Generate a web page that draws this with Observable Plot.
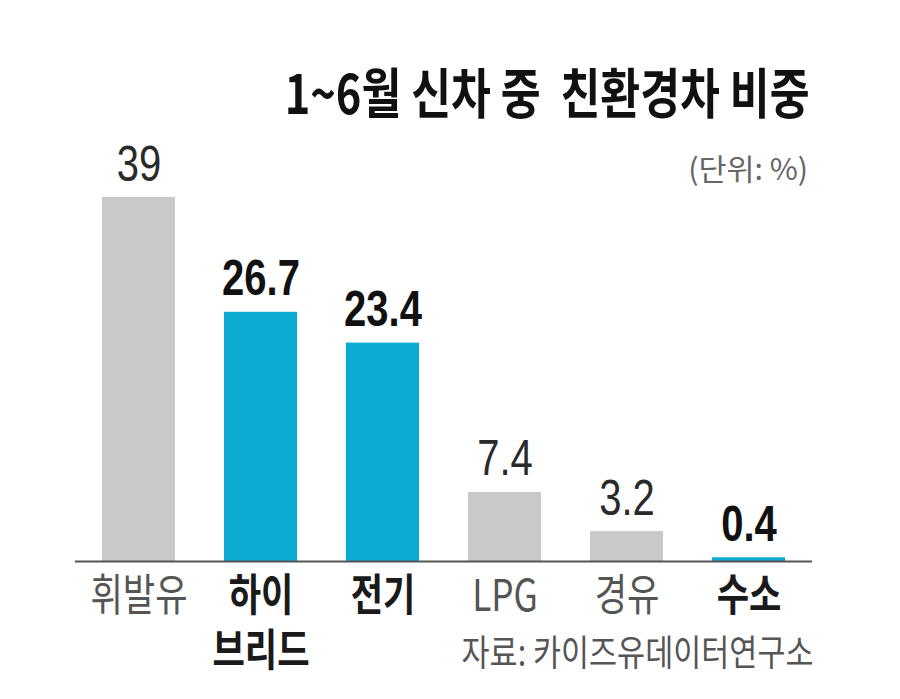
<!DOCTYPE html>
<html>
<head>
<meta charset="utf-8">
<script src="https://cdn.jsdelivr.net/npm/d3@7"></script>
<script src="https://cdn.jsdelivr.net/npm/@observablehq/plot@0.6"></script>
<style>
  html, body { margin: 0; padding: 0; background: #fff; }
  #wrap { position: relative; width: 900px; height: 699px; overflow: hidden; }
  .ov { position: absolute; white-space: pre; font-family: "Noto Sans CJK KR", "Noto Sans", sans-serif; line-height: 1; transform-origin: right center; }
  #title { font-size: 54px; font-weight: 700; color: #111; right: 90px; top: 64px; }
  #unit { font-size: 30px; font-weight: 400; color: #666; right: 92px; top: 152px; }
  #source { font-size: 36px; font-weight: 400; color: #555; right: 86px; top: 632px; }
</style>
</head>
<body>
<div id="wrap">
  <div id="chart"></div>
  <div id="title" class="ov"></div>
  <div id="unit" class="ov"></div>
  <div id="source" class="ov"></div>
</div>
<script>
// ---- data ----
const titleText = "1~6월 신차 중  친환경차 비중";
const unitText = "(단위: %)";
const sourceText = "자료: 카이즈유데이터연구소";
const categories = ["휘발유", "하이브리드", "전기", "LPG", "경유", "수소"];
const labels = ["휘발유", "하이\n브리드", "전기", "LPG", "경유", "수소"];
const values = [39, 26.7, 23.4, 7.4, 3.2, 0.4];
const groups = ["기타", "친환경", "친환경", "기타", "기타", "친환경"];

const rows = categories.map((c, i) => ({category: c, label: labels[i], value: values[i], group: groups[i]}));
const eco = rows.filter(d => d.group === "친환경");
const other = rows.filter(d => d.group !== "친환경");

const numFont = "'Liberation Sans', Arial, sans-serif";
const korFont = "'Noto Sans CJK KR', 'Noto Sans', sans-serif";

const plot = Plot.plot({
  width: 900,
  height: 699,
  marginLeft: 75,
  marginRight: 88,
  marginTop: 197,
  marginBottom: 138,
  x: {domain: categories, paddingInner: 0.4, paddingOuter: 0.2, axis: null},
  y: {domain: [0, 39], axis: null},
  color: {domain: ["친환경", "기타"], range: ["#0cacd2", "#c9c9c9"]},
  style: {background: "#fff"},
  marks: [
    Plot.barY(rows, {x: "category", y: "value", fill: "group"}),
    Plot.ruleY([0], {stroke: "#555", strokeWidth: 2}),
    Plot.text(other, {x: "category", y: "value", text: d => String(d.value), dy: -17, lineAnchor: "bottom",
      fontSize: 50, fontFamily: numFont, fontWeight: 400, fill: "#2a2a2a"}),
    Plot.text(eco, {x: "category", y: "value", text: d => String(d.value), dy: -17, lineAnchor: "bottom",
      fontSize: 50, fontFamily: numFont, fontWeight: 700, fill: "#111"}),
    Plot.text(other, {x: "category", text: "label", frameAnchor: "bottom", dy: 10, lineAnchor: "top",
      lineHeight: 1.25, fontSize: 44, fontFamily: korFont, fontWeight: 400, fill: "#555"}),
    Plot.text(eco, {x: "category", text: "label", frameAnchor: "bottom", dy: 10, lineAnchor: "top",
      lineHeight: 1.25, fontSize: 44, fontFamily: korFont, fontWeight: 700, fill: "#1a1a1a"})
  ]
});
document.getElementById("chart").appendChild(plot);

// condensed look: horizontal squeeze of each text around its anchor
plot.querySelectorAll("text").forEach(t => {
  const tr = t.getAttribute("transform") || "";
  t.setAttribute("transform", `${tr} scale(0.8,1)`);
});

function fit(id, text, targetWidth) {
  const el = document.getElementById(id);
  el.textContent = text;
  const w = el.getBoundingClientRect().width;
  el.style.transform = `scaleX(${targetWidth / w})`;
}
fit("title", titleText, 525);
fit("unit", unitText, 120);
fit("source", sourceText, 352);
</script>
</body>
</html>
